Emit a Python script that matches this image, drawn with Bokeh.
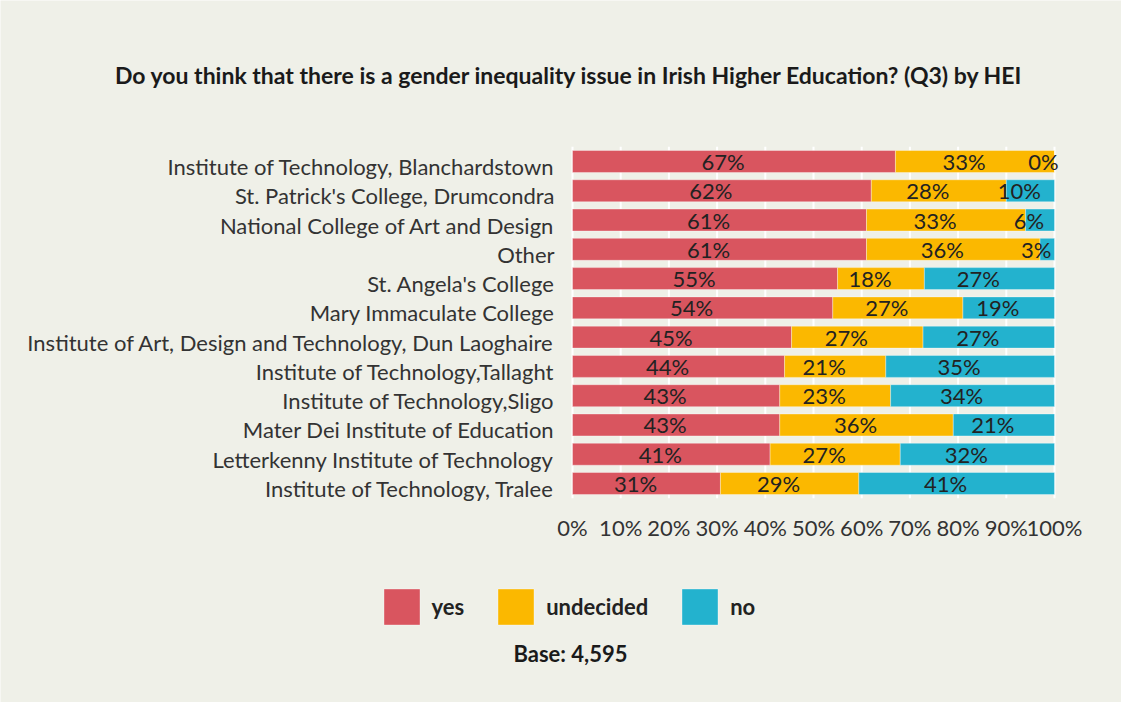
from bokeh.plotting import figure
from bokeh.models import ColumnDataSource, Range1d, Label, Legend, LegendItem
from bokeh.core.properties import value
from bokeh.embed import file_html
from bokeh.resources import INLINE

# ---------------- data ----------------
institutions = [
    "Institute of Technology, Blanchardstown",
    "St. Patrick's College, Drumcondra",
    "National College of Art and Design",
    "Other",
    "St. Angela's College",
    "Mary Immaculate College",
    "Institute of Art, Design and Technology, Dun Laoghaire",
    "Institute of Technology,Tallaght",
    "Institute of Technology,Sligo",
    "Mater Dei Institute of Education",
    "Letterkenny Institute of Technology",
    "Institute of Technology, Tralee",
]
yes = [67, 62, 61, 61, 55, 54, 45, 44, 43, 43, 41, 31]
undecided = [33, 28, 33, 36, 18, 27, 27, 21, 23, 36, 27, 29]
no = [0, 10, 6, 3, 27, 19, 27, 35, 34, 21, 32, 41]
series_names = ["yes", "undecided", "no"]
series_colors = ["#D9555F", "#FBB800", "#23B2CE"]
tick_values = [0, 10, 20, 30, 40, 50, 60, 70, 80, 90, 100]
tick_labels = ["0%", "10%", "20%", "30%", "40%", "50%", "60%", "70%", "80%", "90%", "100%"]
title_text = "Do you think that there is a gender inequality issue in Irish Higher Education? (Q3) by HEI"
base_text = "Base: 4,595"

# ---------------- layout constants (pixels) ----------------
BG = "#EFF0E8"
FONT = "Lato"
W, H = 1121, 702
ZERO_PX, HUNDRED_PX = 572, 1054          # where 0% and 100% fall
TOP_ROW_PX, BOTTOM_ROW_PX = 161, 483     # centres of first and last bar

n = len(institutions)
px_per_pct = (HUNDRED_PX - ZERO_PX) / 100.0
px_per_row = (BOTTOM_ROW_PX - TOP_ROW_PX) / (n - 1)
x_start = -ZERO_PX / px_per_pct
x_end = (W - ZERO_PX) / px_per_pct
y_end = (n - 1) + TOP_ROW_PX / px_per_row
y_start = (n - 1) - (H - TOP_ROW_PX) / px_per_row


def to_x(px):
    return x_start + px / px_per_pct


def to_y(py):
    return y_end - py / px_per_row


p = figure(width=W, height=H, x_range=Range1d(x_start, x_end), y_range=Range1d(y_start, y_end),
           output_backend="svg", toolbar_location=None, x_axis_type=None, y_axis_type=None,
           min_border=0)
p.background_fill_color = BG
p.border_fill_color = BG
p.outline_line_color = None
p.xgrid.grid_line_color = None
p.ygrid.grid_line_color = None

positions = [n - 1 - i for i in range(n)]

# vertical grid lines across the bar area
p.segment(x0=tick_values, x1=tick_values, y0=[-0.5] * len(tick_values), y1=[n - 0.5] * len(tick_values),
          line_color="white", line_width=2)

# stacked bars
series = [yes, undecided, no]
left_cols = [[] for _ in series]
right_cols = [[] for _ in series]
for i in range(n):
    total = sum(s[i] for s in series)
    acc = 0.0
    for k, s in enumerate(series):
        left_cols[k].append(acc)
        acc += s[i] * 100.0 / total
        right_cols[k].append(acc)

renderers = []
label_x, label_y, label_t = [], [], []
for k, s in enumerate(series):
    src = ColumnDataSource(dict(y=positions, left=left_cols[k], right=right_cols[k]))
    r = p.hbar(y="y", left="left", right="right", height=0.75, source=src,
               fill_color=series_colors[k], line_color="white", line_alpha=0.35, line_width=1)
    renderers.append(r)
    for i in range(n):
        label_x.append((left_cols[k][i] + right_cols[k][i]) / 2)
        label_y.append(positions[i])
        label_t.append(f"{s[i]}%")

lsrc = ColumnDataSource(dict(x=label_x, y=label_y, t=label_t))
p.text(x="x", y="y", text="t", source=lsrc, text_align="center", text_baseline="middle",
       x_offset=-11, text_font=value(FONT), text_font_size="22px", text_color="#222222")

# category labels (y axis)
ysrc = ColumnDataSource(dict(x=[0] * n, y=positions, t=institutions))
p.text(x="x", y="y", text="t", source=ysrc, text_align="right", text_baseline="middle",
       x_offset=-18, y_offset=5, text_font=value(FONT), text_font_size="22px", text_color="#333333")

# percentage tick labels (x axis)
xsrc = ColumnDataSource(dict(x=tick_values, y=[-0.5] * len(tick_values), t=tick_labels))
p.text(x="x", y="y", text="t", source=xsrc, text_align="center", text_baseline="middle",
       y_offset=29, text_font=value(FONT), text_font_size="22px", text_color="#333333")

# title and base
p.add_layout(Label(x=to_x(569), y=to_y(74), text=title_text, text_align="center", text_baseline="middle",
                   text_font=FONT, text_font_size="23px", text_font_style="bold", text_color="#1a1a1a"))
p.add_layout(Label(x=to_x(570), y=to_y(653), text=base_text, text_align="center", text_baseline="middle",
                   text_font=FONT, text_font_size="22px", text_font_style="bold", text_color="#1a1a1a"))

# legend
items = [LegendItem(label=name, renderers=[r]) for name, r in zip(series_names, renderers)]
lg = Legend(items=items, orientation="horizontal", location=(378.5, 73.5),
            glyph_width=45, glyph_height=45, label_standoff=8, spacing=29,
            padding=0, margin=0, border_line_color=None, background_fill_alpha=0,
            label_text_font=FONT, label_text_font_size="22px", label_text_font_style="bold",
            label_text_color="#222222")
p.add_layout(lg)

open("out.html", "w").write(file_html(p, INLINE))
